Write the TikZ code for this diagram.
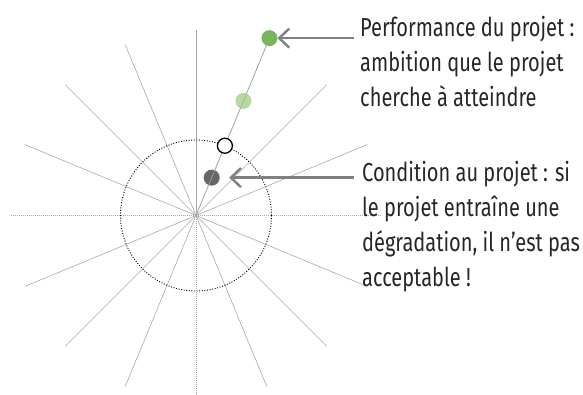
\documentclass[tikz,border=0pt]{standalone}
\usepackage{fontspec}
\setmainfont{Fira Sans}[FakeStretch=0.77]
\usetikzlibrary{arrows.meta,calc}
\definecolor{dotgreen}{HTML}{76B55A}
\definecolor{lightgreen}{HTML}{B5D9A0}
\definecolor{darkdot}{HTML}{666666}
\definecolor{arrowgray}{HTML}{808080}
\definecolor{raygray}{HTML}{A8A8A8}
\definecolor{textcol}{HTML}{262626}
\tikzset{
  ray/.style={draw=raygray, line width=0.6pt},
  axisray/.style={draw=raygray, line width=0.7pt, dash pattern=on 1pt off 1pt},
  ringline/.style={draw=black, line width=0.9pt, dash pattern=on 1pt off 1.6pt},
  dotnode/.style={circle, minimum size=16pt, inner sep=0pt, outer sep=0pt},
  callout/.style={draw=arrowgray, line width=2.4pt, -{Straight Barb[length=10pt,width=19pt,line width=2.4pt]}},
  label/.style={anchor=base west, inner sep=0pt, align=left, text=textcol,
    font=\fontsize{26}{35}\selectfont},
}
\begin{document}
\begin{tikzpicture}[x=1pt,y=-1pt]
\useasboundingbox (0,0) rectangle (583,395);
\coordinate (c) at (196,215.5);
% rays
\foreach \a in {22.5,45,67.5,112.5,135,157.5,202.5,225,247.5,270,292.5,315,337.5}
  \draw[ray] (c) -- ++(\a:185);
\foreach \a in {0,90,180,270}
  \draw[axisray] (c) -- ++(\a:185);
% ring
\draw[ringline] (c) circle[radius=75.5];
% dots
\path (c) ++(-67.5:192) node[dotnode, fill=dotgreen] (green) {};
\path (c) ++(-67.5:124) node[dotnode, fill=lightgreen] (lgreen) {};
\path (c) ++(-67.5:41) node[dotnode, fill=darkdot] (dark) {};
\draw[ray] (c) -- (green);
\path (c) ++(-67.5:75.5) node[dotnode, fill=white, draw=black, line width=1.3pt, minimum size=15pt] (ring) {};
% callouts
\coordinate (a1) at (354,0 |- green);
\coordinate (a2) at (354,0 |- dark);
\draw[callout] (a1) -- (green);
\draw[callout, shorten >=9.5pt] (a2) -- (dark);
% texts (anchored at the baseline of the last line)
\node[label] (t1) at (360,106.7) {Performance du projet :\\ambition que le projet\\cherche à atteindre};
\node[label] (t2) at (362,286.7) {Condition au projet : si\\le projet entraîne une\\dégradation, il n’est pas\\acceptable !};
\end{tikzpicture}
\end{document}
